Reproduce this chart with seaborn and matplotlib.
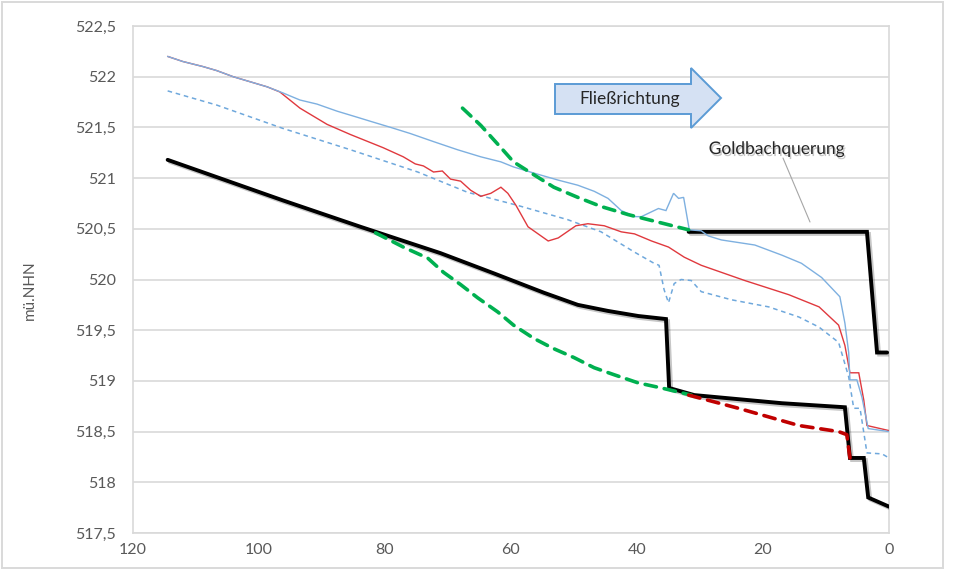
import pandas as pd
import seaborn as sns
import matplotlib
matplotlib.use("Agg")
import matplotlib.pyplot as plt
from matplotlib import patheffects as pe
from matplotlib.patches import Polygon, Rectangle

# Flusskilometer (x) und Höhen in m ü. NHN (y)
sohle_km = [114.5, 96.2, 83.9, 71.2, 62.7, 54.8, 49.4, 44.6, 39.8, 35.4, 34.9, 30.9,
            17.0, 7.0, 6.2, 4.0, 3.3, 0.0]
sohle_h = [521.18, 520.78, 520.52, 520.26, 520.06, 519.87, 519.75, 519.69, 519.64,
           519.61, 518.93, 518.86, 518.78, 518.74, 518.24, 518.24, 517.85, 517.76]

bruecke_km = [31.8, 3.5, 1.9, 0.3]
bruecke_h = [520.47, 520.47, 519.28, 519.28]

wsp_rot_km = [114.5, 112.1, 108.9, 106.7, 104.1, 101.4, 98.7, 96.7, 93.5, 89.2, 85.5,
              80.3, 77.1, 75.2, 73.9, 72.3, 70.9, 69.6, 68.0, 66.4, 64.8, 63.2, 61.6,
              60.5, 59.2, 57.3, 54.1, 52.5, 49.7, 47.8, 45.2, 42.5, 40.4, 37.7, 35.0,
              32.5, 29.8, 22.9, 15.9, 11.1, 8.0, 7.0, 6.2, 4.8, 4.0, 3.5, 0.0]
wsp_rot_h = [522.20, 522.15, 522.10, 522.06, 522.00, 521.95, 521.90, 521.85, 521.69,
             521.53, 521.43, 521.30, 521.21, 521.14, 521.12, 521.06, 521.07, 520.99,
             520.97, 520.88, 520.82, 520.85, 520.91, 520.85, 520.73, 520.52, 520.38,
             520.41, 520.53, 520.55, 520.53, 520.47, 520.45, 520.38, 520.32, 520.22,
             520.14, 519.99, 519.85, 519.73, 519.55, 519.35, 519.08, 519.08, 518.81,
             518.56, 518.51]

wsp_blau_km = [114.5, 112.1, 108.9, 106.7, 104.1, 101.4, 98.7, 96.2, 93.5, 90.8, 87.6,
               84.4, 82.3, 79.1, 76.0, 72.3, 68.5, 64.8, 61.6, 59.6, 56.4, 52.5, 49.4,
               46.8, 44.6, 42.5, 40.4, 39.3, 36.6, 35.4, 34.2, 33.4, 32.6, 31.7, 29.8,
               28.7, 26.6, 21.3, 17.0, 13.9, 10.7, 7.8, 7.0, 6.4, 6.2, 5.1, 4.3, 3.3, 0.0]
wsp_blau_h = [522.20, 522.15, 522.10, 522.06, 522.00, 521.95, 521.90, 521.84, 521.77,
              521.73, 521.66, 521.60, 521.56, 521.50, 521.44, 521.36, 521.28, 521.21,
              521.16, 521.11, 521.05, 520.98, 520.93, 520.87, 520.80, 520.68, 520.62,
              520.62, 520.70, 520.68, 520.85, 520.80, 520.81, 520.49, 520.48, 520.43,
              520.39, 520.34, 520.24, 520.16, 520.02, 519.83, 519.57, 519.28, 519.01,
              519.01, 518.84, 518.53, 518.50]

wsp_gestr_km = [114.5, 106.7, 96.2, 85.5, 74.8, 66.9, 58.9, 51.0, 45.7, 40.4, 37.3, 36.5,
                35.7, 35.0, 34.1, 33.0, 31.4, 29.8, 25.0, 19.1, 14.3, 11.1, 8.0, 6.4,
                5.6, 4.6, 3.5, 1.1, 0.0]
wsp_gestr_h = [521.86, 521.72, 521.49, 521.28, 521.06, 520.86, 520.73, 520.59, 520.47,
               520.27, 520.16, 520.14, 519.90, 519.77, 519.96, 520.00, 519.99, 519.88,
               519.80, 519.73, 519.63, 519.53, 519.38, 519.04, 518.73, 518.73, 518.29,
               518.28, 518.24]

gruen_oben_km = [67.7, 64.8, 61.6, 59.6, 56.8, 53.2, 49.4, 45.7, 41.4, 38.2, 35.0, 31.8]
gruen_oben_h = [521.69, 521.52, 521.30, 521.16, 521.05, 520.91, 520.81, 520.72, 520.64,
                520.59, 520.54, 520.49]

gruen_unten_km = [81.5, 77.1, 73.2, 70.7, 68.0, 65.3, 62.1, 59.6, 56.4, 53.3, 50.0, 46.8,
                  43.6, 39.8, 36.1, 31.4]
gruen_unten_h = [520.46, 520.32, 520.21, 520.07, 519.95, 519.82, 519.68, 519.55, 519.42,
                 519.32, 519.23, 519.13, 519.06, 518.98, 518.93, 518.86]

rot_gestr_km = [31.8, 23.9, 14.3, 8.0, 6.7, 6.2]
rot_gestr_h = [518.86, 518.73, 518.56, 518.50, 518.47, 518.24]

y_ticks = [517.5, 518, 518.5, 519, 519.5, 520, 520.5, 521, 521.5, 522, 522.5]
y_tick_labels = ["517,5", "518", "518,5", "519", "519,5", "520", "520,5", "521",
                 "521,5", "522", "522,5"]
x_ticks = [120, 100, 80, 60, 40, 20, 0]
x_tick_labels = ["120", "100", "80", "60", "40", "20", "0"]

sns.set_style("white")
plt.rcParams['font.family'] = ['Lato', 'DejaVu Sans']

W, H = 961, 569
fig = plt.figure(figsize=(W / 100, H / 100), dpi=100)
ax = fig.add_axes([133 / W, 1 - 533 / H, 756 / W, 507 / H])

shadow = [pe.SimpleLineShadow(offset=(1.5, -1.5), shadow_color='k', alpha=0.22), pe.Normal()]


def draw(km, h, color, lw, dashes=None, effects=None, z=2, cap='butt'):
    df = pd.DataFrame({'km': km, 'h': h})
    sns.lineplot(data=df, x='km', y='h', ax=ax, sort=False, estimator=None,
                 color=color, lw=lw, zorder=z, legend=False)
    line = ax.lines[-1]
    if dashes:
        line.set_dashes(dashes)
        line.set_dash_capstyle(cap)
    line.set_solid_joinstyle('miter')
    if effects:
        line.set_path_effects(effects)
    return line


draw(sohle_km, sohle_h, 'black', 2.8, effects=shadow, z=3)
draw(bruecke_km, bruecke_h, 'black', 2.8, effects=shadow, z=3)
draw(wsp_gestr_km, wsp_gestr_h, '#6fa8dc', 1.1, dashes=(3, 2.5), z=4)
draw(wsp_rot_km, wsp_rot_h, '#e0393e', 1.0, z=5)
draw(wsp_blau_km, wsp_blau_h, '#7eb0e0', 1.0, z=5)
draw(gruen_oben_km, gruen_oben_h, '#00b050', 2.6, dashes=(3.2, 2.2), z=6, cap='round')
draw(gruen_unten_km, gruen_unten_h, '#00b050', 2.6, dashes=(3.2, 2.2), z=6, cap='round')
draw(rot_gestr_km, rot_gestr_h, '#c00000', 2.6, dashes=(3.2, 2.2), z=6, cap='round')

ax.set_xlim(120, 0)
ax.set_ylim(517.5, 522.5)
ax.set_xticks(x_ticks)
ax.set_xticklabels(x_tick_labels)
ax.set_yticks(y_ticks)
ax.set_yticklabels(y_tick_labels)
ax.set_xlabel("")
ax.set_ylabel("")
ax.tick_params(axis='both', length=0, labelsize=11.5, labelcolor='#595959')
ax.tick_params(axis='y', pad=12)
ax.tick_params(axis='x', pad=7)
ax.yaxis.grid(True, color='#d9d9d9', lw=1.2)
ax.xaxis.grid(False)
for s in ax.spines.values():
    s.set_color('#d9d9d9')
    s.set_linewidth(1.2)

fig.text(30 / W, 1 - 290 / H, "mü.NHN", rotation=90, ha='center', va='center',
         fontsize=11, color='#595959')

# Fließrichtungspfeil
def fp(px, py):
    return (px / W, 1 - py / H)

arrow_pts = [fp(555, 84), fp(691, 84), fp(691, 68), fp(721, 98), fp(691, 128),
             fp(691, 114), fp(555, 114)]
fig.add_artist(Polygon(arrow_pts, closed=True, transform=fig.transFigure,
                       facecolor='#d5e1f3', edgecolor='#5b9bd5', lw=1.4, zorder=10))
fig.text(630 / W, 1 - 99 / H, "Fließrichtung", ha='center', va='center',
         fontsize=12.5, color='#262626', zorder=11)

# Beschriftung Goldbachquerung mit Hinweislinie
fig.add_artist(plt.Line2D([783 / W, 810 / W], [1 - 158 / H, 1 - 222 / H],
                          transform=fig.transFigure, color='#a6a6a6', lw=0.8, zorder=9))
fig.text(777 / W, 1 - 149 / H, "Goldbachquerung", ha='center', va='center',
         fontsize=12.5, color='#262626', zorder=11,
         path_effects=[pe.withSimplePatchShadow(offset=(1, -1.5), shadow_rgbFace='k', alpha=0.22)])

# Rahmen des Diagrammbereichs
fig.add_artist(Rectangle((2 / W, 1 / H), 941 / W, 566 / H, transform=fig.transFigure,
                         fill=False, edgecolor='#d9d9d9', lw=1.4, zorder=0))

fig.savefig("out.png", dpi=100)
